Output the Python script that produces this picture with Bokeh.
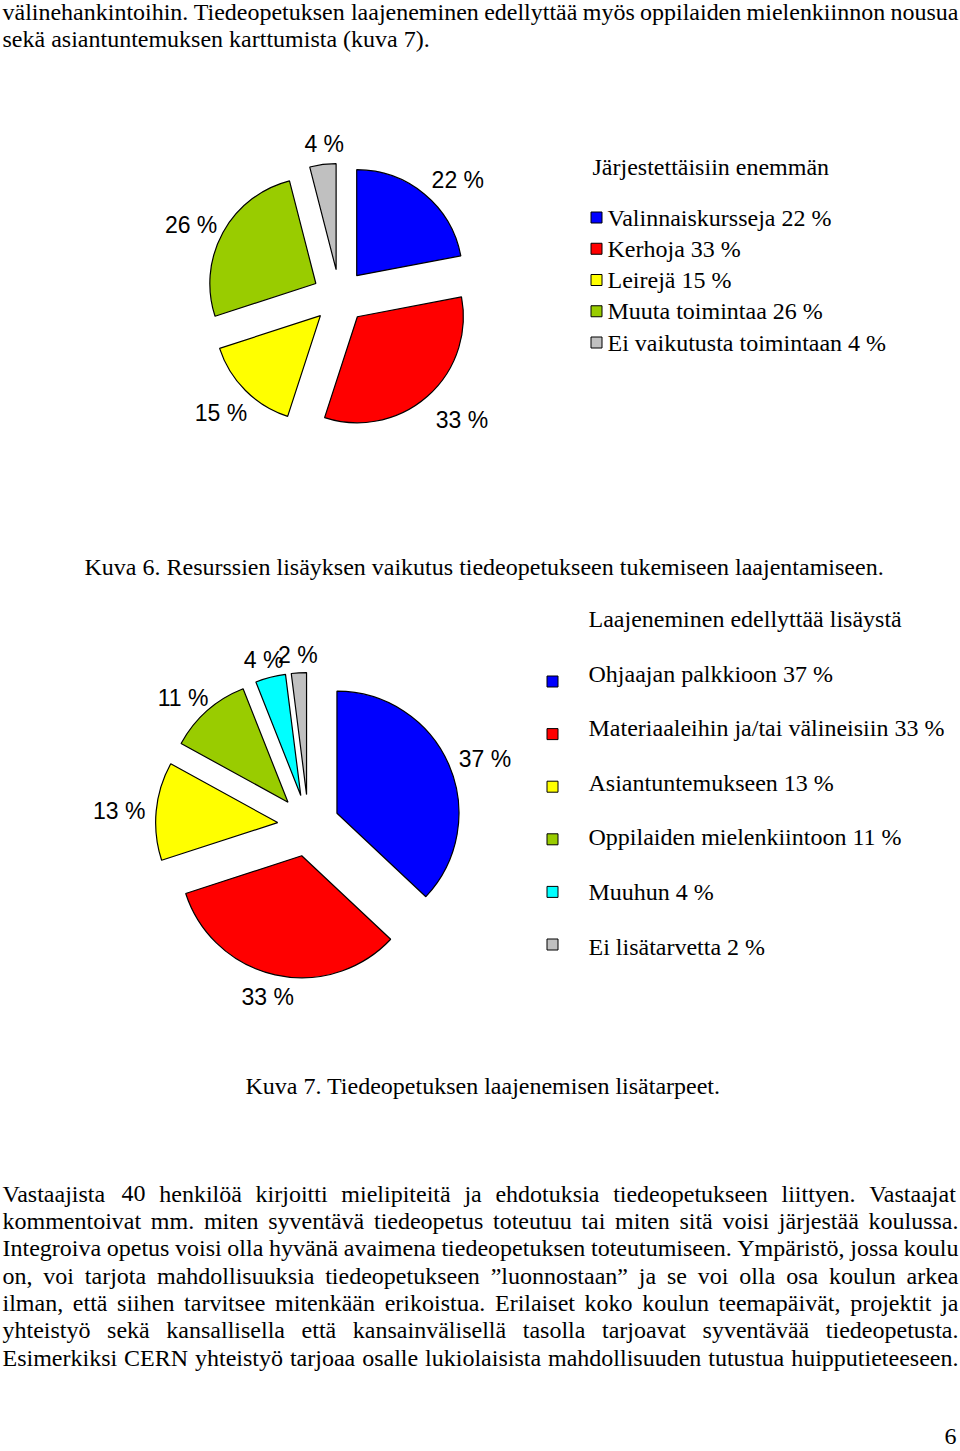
import math
from bokeh.plotting import figure
from bokeh.models import ColumnDataSource, Range1d
from bokeh.core.properties import value
from bokeh.embed import file_html
from bokeh.resources import INLINE

# ---------------- data ----------------
pie1_categories = ["Valinnaiskursseja", "Kerhoja", "Leirejä", "Muuta toimintaa",
                   "Ei vaikutusta toimintaan"]
pie1_values = [22, 33, 15, 26, 4]
pie1_colors = ["#0000ff", "#ff0000", "#ffff00", "#99cc00", "#c0c0c0"]
pie1_title = "Järjestettäisiin enemmän"
pie1_caption = "Kuva 6. Resurssien lisäyksen vaikutus tiedeopetukseen tukemiseen laajentamiseen."

pie2_categories = ["Ohjaajan palkkioon", "Materiaaleihin ja/tai välineisiin",
                   "Asiantuntemukseen", "Oppilaiden mielenkiintoon", "Muuhun",
                   "Ei lisätarvetta"]
pie2_values = [37, 33, 13, 11, 4, 2]
pie2_colors = ["#0000ff", "#ff0000", "#ffff00", "#99cc00", "#00ffff", "#c0c0c0"]
pie2_title = "Laajeneminen edellyttää lisäystä"
pie2_caption = "Kuva 7. Tiedeopetuksen laajenemisen lisätarpeet."

top_lines = [
    "välinehankintoihin. Tiedeopetuksen laajeneminen edellyttää myös oppilaiden mielenkiinnon nousua",
    "sekä asiantuntemuksen karttumista (kuva 7).",
]
para_lines = [
    "Vastaajista 40 henkilöä kirjoitti mielipiteitä ja ehdotuksia tiedeopetukseen liittyen. Vastaajat",
    "kommentoivat mm. miten syventävä tiedeopetus toteutuu tai miten sitä voisi järjestää koulussa.",
    "Integroiva opetus voisi olla hyvänä avaimena tiedeopetuksen toteutumiseen. Ympäristö, jossa koulu",
    "on, voi tarjota mahdollisuuksia tiedeopetukseen ”luonnostaan” ja se voi olla osa koulun arkea",
    "ilman, että siihen tarvitsee mitenkään erikoistua. Erilaiset koko koulun teemapäivät, projektit ja",
    "yhteistyö sekä kansallisella että kansainvälisellä tasolla tarjoavat syventävää tiedeopetusta.",
    "Esimerkiksi CERN yhteistyö tarjoaa osalle lukiolaisista mahdollisuuden tutustua huipputieteeseen.",
]
page_number = "6"

# ---------------- layout ----------------
PAGE_W, PAGE_H = 960, 1451
FIG_W, FIG_H = 960, 1451

SERIF = value("Liberation Serif")
SANS = value("Liberation Sans")
BODY = 24.0
LABEL = 23.0

# Times / Liberation Serif advance widths (1/1000 em)
W = {" ": 250, ".": 250, ",": 250, "(": 333, ")": 333, "%": 833, "/": 278, "”": 444,
     "“": 444, "-": 333, ":": 278,
     "A": 722, "B": 667, "C": 667, "D": 722, "E": 611, "F": 556, "G": 722, "H": 722,
     "I": 333, "J": 389, "K": 722, "L": 611, "M": 889, "N": 722, "O": 722, "P": 556,
     "Q": 722, "R": 667, "S": 556, "T": 611, "U": 722, "V": 722, "W": 944, "X": 722,
     "Y": 722, "Z": 611,
     "a": 444, "b": 500, "c": 444, "d": 500, "e": 444, "f": 333, "g": 500, "h": 500,
     "i": 278, "j": 278, "k": 500, "l": 278, "m": 778, "n": 500, "o": 500, "p": 500,
     "q": 500, "r": 333, "s": 389, "t": 278, "u": 500, "v": 500, "w": 722, "x": 500,
     "y": 500, "z": 444, "ä": 444, "ö": 500, "å": 444, "Ä": 722, "Ö": 722}
for d in "0123456789":
    W[d] = 500

# Arial / Liberation Sans widths for the pie labels
WS = {" ": 278, "%": 889}
for d in "0123456789":
    WS[d] = 556


def em(s, table=W):
    return sum(table.get(c, 500) for c in s) / 1000.0


def justify(line, x0, x1, y, size, min_gap=0.22):
    words = line.split(" ")
    gaps = len(words) - 1
    tot = sum(em(w) for w in words)
    if tot * size + gaps * min_gap * size > (x1 - x0):
        size = (x1 - x0) / (tot + gaps * min_gap)
    gap = ((x1 - x0) - tot * size) / gaps
    out = []
    x = x0
    for w in words:
        out.append((x, y, w, size))
        x += em(w) * size + gap
    return out


p = figure(width=FIG_W, height=FIG_H, output_backend="svg", toolbar_location=None,
           x_range=Range1d(0, PAGE_W), y_range=Range1d(-PAGE_H, 0),
           min_border=0)
p.axis.visible = False
p.grid.visible = False
p.outline_line_color = None
p.background_fill_color = "white"
p.border_fill_color = "white"

# ---------- body text ----------
items = []
items += justify(top_lines[0], 2, 958, 11, BODY)
items.append((2, 38, top_lines[1], BODY))
for i, ln in enumerate(para_lines):
    items += justify(ln, 2, 958, 1193 + i * 27.35, BODY)
items.append((84, 566, pie1_caption, BODY))
items.append((245, 1085, pie2_caption, BODY))
items.append((592, 166, pie1_title, BODY))
items.append((588, 618, pie2_title, BODY))
for i, (c, v) in enumerate(zip(pie1_categories, pie1_values)):
    items.append((607, 217 + i * 31.25, f"{c} {v} %", BODY))
for i, (c, v) in enumerate(zip(pie2_categories, pie2_values)):
    items.append((588, 673 + i * 54.6, f"{c} {v} %", BODY))

src = ColumnDataSource(dict(
    x=[t[0] for t in items], y=[-t[1] for t in items], text=[t[2] for t in items],
    fs=[f"{t[3]:.2f}px" for t in items]))
p.text(x="x", y="y", text="text", source=src, text_font=SERIF, text_font_size="fs",
       text_align="left", text_baseline="middle", text_color="black")

p.text(x=[956], y=[-1436], text=[page_number], text_font=SERIF,
       text_font_size=f"{BODY:.2f}px", text_align="right", text_baseline="middle",
       text_color="black")

# ---------- legend squares ----------
p.scatter(x=[596] * len(pie1_values), y=[-(217 + i * 31.25) for i in range(len(pie1_values))],
          marker="square", size=11, fill_color=pie1_colors, line_color="black",
          line_width=1)
p.scatter(x=[552] * len(pie2_values), y=[-(681 + i * 52.6) for i in range(len(pie2_values))],
          marker="square", size=11, fill_color=pie2_colors, line_color="black",
          line_width=1)


# ---------- pies ----------
def draw_pie(cx, cy, r, explode, lab_gap, values, colors, shift=(0, 0)):
    total = float(sum(values))
    cum = 0.0
    d = dict(x=[], y=[], start=[], end=[], color=colors, lx=[], ly=[], lab=[])
    D = r + explode + lab_gap
    for v in values:
        a1 = math.radians(90 - cum / total * 360)
        a0 = math.radians(90 - (cum + v) / total * 360)
        mid = (a0 + a1) / 2
        lab = f"{v} %"
        hw = em(lab, WS) * LABEL / 2
        hh = LABEL * 0.36
        d["x"].append(cx + explode * math.cos(mid))
        d["y"].append(-cy + explode * math.sin(mid))
        d["start"].append(a0)
        d["end"].append(a1)
        d["lx"].append(cx + D * math.cos(mid) + hw * math.cos(mid) + shift[0])
        d["ly"].append(-cy + D * math.sin(mid) + hh * math.sin(mid) - shift[1])
        d["lab"].append(lab)
        cum += v
    s = ColumnDataSource(d)
    p.wedge(x="x", y="y", radius=r, start_angle="start", end_angle="end",
            direction="anticlock", fill_color="color", line_color="black",
            line_width=1.2, source=s)
    p.text(x="lx", y="ly", text="lab", source=s, text_font=SANS,
           text_font_size=f"{LABEL:.2f}px", text_align="center",
           text_baseline="middle", text_color="black")


draw_pie(339, 296, 106, 27, 17, pie1_values, pie1_colors, shift=(6, 5))
draw_pie(308, 825, 122, 31, 12, pie2_values, pie2_colors, shift=(1, 2))

open("out.html", "w").write(file_html(p, INLINE))
